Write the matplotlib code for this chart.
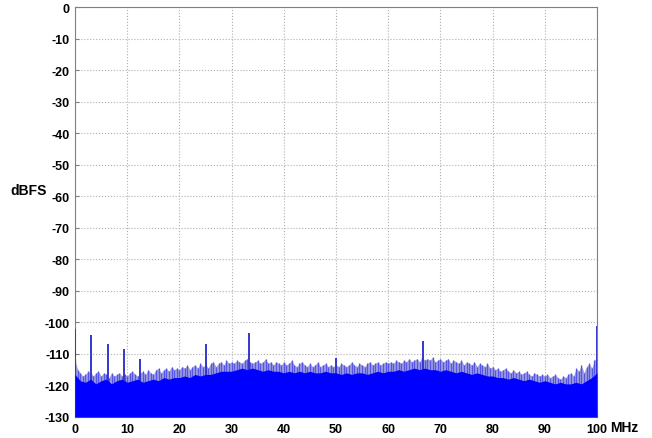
import numpy as np
import matplotlib
matplotlib.use("Agg")
import matplotlib.pyplot as plt

# ====== DATA ======
# dense noise floor, one value per MHz (0..100)
floor_mhz = np.arange(0, 101, 1.0)
floor_db = [
    -116.5, -118.5, -119.0, -118.0, -119.5, -118.5, -118.0, -119.5, -118.5, -118.0,
    -119.0, -118.5, -118.0, -119.0, -118.5, -118.0, -118.5, -117.5, -118.0, -117.5,
    -117.5, -117.0, -117.5, -116.5, -117.0, -116.5, -116.5, -116.0, -115.5, -115.5,
    -115.5, -115.0, -114.5, -115.0, -114.5, -115.0, -115.5, -115.0, -115.5, -115.5,
    -116.0, -115.5, -116.0, -115.5, -116.0, -115.5, -116.0, -116.0, -115.5, -116.0,
    -116.0, -116.5, -116.0, -116.5, -116.0, -116.0, -116.5, -116.0, -115.5, -116.0,
    -115.5, -115.5, -115.0, -115.5, -115.0, -114.5, -115.0, -114.5, -115.0, -115.0,
    -115.5, -115.0, -115.5, -116.0, -115.5, -116.0, -116.5, -116.0, -116.5, -117.0,
    -117.0, -117.5, -117.5, -118.0, -117.5, -118.0, -118.5, -118.0, -118.5, -119.0,
    -118.5, -119.0, -119.5, -119.0, -119.5, -119.5, -119.0, -119.5, -118.5, -117.5,
    -116.0,
]

# hair-like noise peaks, every 0.5 MHz
peak_mhz = np.arange(0, 100.5, 0.5)
peak_db = [
    -112.0, -115.0, -116.0, -117.0, -116.5, -115.5, -116.0, -117.0, -116.0, -115.5,
    -117.0, -116.0, -116.5, -117.5, -116.0, -117.0, -116.5, -116.0, -117.0, -116.5,
    -117.0, -116.0, -115.5, -116.5, -117.0, -116.0, -115.5, -116.5, -115.0, -116.0,
    -116.5, -115.0, -114.5, -116.0, -115.0, -114.5, -115.5, -114.0, -115.0, -114.5,
    -115.0, -114.0, -114.5, -113.5, -115.0, -114.0, -113.5, -114.5, -113.0, -114.0,
    -113.5, -114.5, -113.0, -112.5, -114.0, -113.0, -112.5, -113.5, -112.0, -113.0,
    -112.5, -113.0, -112.0, -112.5, -113.0, -112.0, -111.5, -112.5, -113.0, -112.5,
    -112.0, -113.0, -112.5, -111.5, -113.0, -112.5, -113.5, -112.5, -113.0, -113.5,
    -112.5, -113.5, -113.0, -112.0, -113.5, -114.0, -113.0, -112.5, -113.5, -114.0,
    -113.0, -114.0, -113.5, -112.5, -114.0, -113.5, -113.0, -114.0, -113.5, -114.0,
    -113.5, -114.0, -113.0, -113.5, -114.0, -113.5, -112.5, -113.5, -114.0, -113.0,
    -113.5, -114.0, -113.0, -112.5, -113.5, -113.0, -112.5, -113.5, -113.0, -112.5,
    -113.0, -112.5, -113.0, -112.0, -112.5, -113.0, -112.0, -112.5, -111.5, -112.5,
    -112.0, -111.5, -112.5, -111.0, -112.0, -111.5, -112.0, -111.0, -112.5, -112.0,
    -111.5, -112.5, -112.0, -111.5, -113.0, -112.0, -112.5, -113.0, -112.0, -113.5,
    -112.5, -113.0, -113.5, -112.5, -114.0, -113.0, -113.5, -114.0, -113.0, -114.5,
    -114.0, -115.0, -114.5, -115.5, -115.0, -114.5, -115.5, -116.0, -115.0, -116.0,
    -115.5, -116.5, -116.0, -115.5, -116.5, -117.0, -116.0, -116.5, -117.0, -116.5,
    -117.0, -116.5, -117.5, -117.0, -116.5, -117.5, -118.0, -117.0, -117.5, -116.5,
    -116.0, -117.0, -114.5, -115.5, -113.5, -116.0, -114.0, -113.0, -114.5, -112.0,
    -111.0,
]

# discrete spurs
spur_mhz = [0.0, 3.1, 6.25, 9.4, 12.5, 25.0, 33.3, 50.0, 66.7, 100.0]
spur_db = [-102.0, -104.0, -107.0, -108.5, -111.5, -106.7, -103.5, -111.2, -106.0, -101.0]

x_ticks = list(range(0, 101, 10))
y_ticks = list(range(-130, 1, 10))

# ====== FIGURE ======
plt.rcParams["font.family"] = ["Liberation Sans", "DejaVu Sans"]
plt.rcParams["axes.unicode_minus"] = False
fig = plt.figure(figsize=(6.52, 4.39), dpi=100)
ax = fig.add_axes([75 / 652, 1 - 418 / 439, (597 - 75) / 652, (418 - 8) / 439])

# light jagged band of noise hair, then individual hairs, spurs, then solid floor
ax.fill_between(peak_mhz, peak_db, -130, color="#9c9ce0", lw=0, zorder=2)
ax.vlines(peak_mhz, -130, peak_db, color="#5656e6", lw=0.9, zorder=2.5)
ax.vlines(spur_mhz, -130, spur_db, color="#3636d0", lw=1.4, zorder=2.8)
ax.fill_between(floor_mhz, floor_db, -130, color="#0000ff", lw=0, zorder=3)

ax.set_xlim(0, 100)
ax.set_ylim(-130, 0)
ax.set_xticks(x_ticks)
ax.set_yticks(y_ticks)
ax.tick_params(direction="in", length=3, color="#808080", labelsize=9, pad=4)
for lab in ax.get_xticklabels() + ax.get_yticklabels():
    lab.set_fontweight("bold")
ax.grid(True, ls=":", color="#b0b0b0", lw=0.8, zorder=0)
ax.set_axisbelow(True)
for s in ax.spines.values():
    s.set_color("#808080")
    s.set_linewidth(0.8)

fig.text(47 / 652, 1 - 191 / 439, "dBFS", ha="right", va="center",
         fontsize=10, fontweight="bold")
fig.text(610 / 652, 1 - 428 / 439, "MHz", ha="left", va="center",
         fontsize=10, fontweight="bold")

fig.savefig("out.png", dpi=100, facecolor="white")
